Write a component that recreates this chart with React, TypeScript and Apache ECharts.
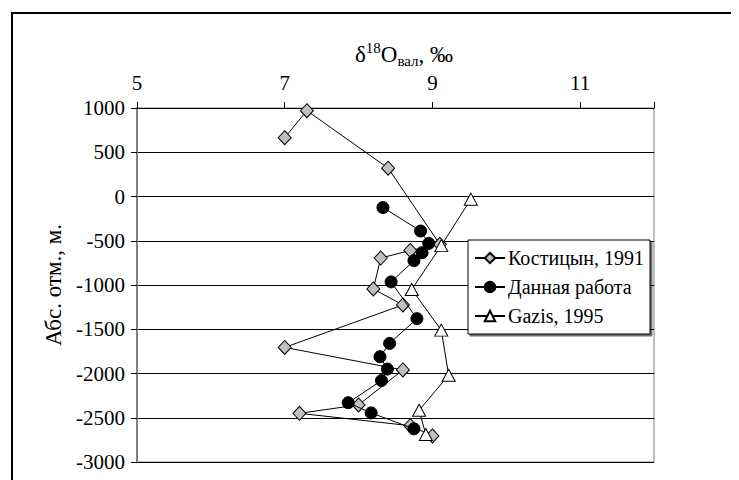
import React, { useEffect, useRef } from "react";
import * as echarts from "echarts";

// δ18O values (‰) and absolute elevations (m) per data source
const kostX = [7.0, 7.3, 8.4, 9.1, 8.7, 8.3, 8.2, 8.6, 7.0, 8.6, 8.0, 7.2, 8.7, 9.0];
const kostY = [665, 970, 320, -540, -610, -695, -1045, -1225, -1705, -1960, -2355, -2450, -2590, -2705];

const danX = [8.33, 8.84, 8.95, 8.86, 8.75, 8.44, 8.79, 8.42, 8.29, 8.39, 8.31, 7.86, 8.17, 8.75];
const danY = [-125, -390, -530, -635, -725, -965, -1380, -1660, -1810, -1950, -2080, -2330, -2445, -2625];

const gazX = [9.52, 9.12, 8.72, 9.12, 9.22, 8.82, 8.91];
const gazY = [-30, -555, -1050, -1510, -2020, -2415, -2690];

const seriesNames = ["Костицын, 1991", "Данная работа", "Gazis, 1995"];
const xTicks = [5, 7, 9, 11];

const FONT = "Liberation Serif, Times New Roman, serif";

const pairs = (xs: number[], ys: number[]) => xs.map((x, i) => [x, ys[i]]);

export default function App() {
  const ref = useRef<HTMLDivElement>(null);

  useEffect(() => {
    if (!ref.current) return;
    const chart = echarts.init(ref.current, undefined, { renderer: "svg" });

    const lineStyle = { color: "#000", width: 1 };

    chart.setOption({
      animation: false,
      backgroundColor: "#fff",
      textStyle: { fontFamily: FONT, color: "#000" },
      grid: {
        left: 129,
        top: 100,
        width: 517,
        height: 354,
        show: true,
        borderColor: "#808080",
        borderWidth: 1,
        backgroundColor: "transparent",
      },
      xAxis: {
        type: "value",
        position: "top",
        min: 5,
        max: 12,
        interval: 2,
        axisLine: { show: true, onZero: false, lineStyle: { color: "#000", width: 1 } },
        axisTick: { show: true, length: 6, lineStyle: { color: "#000" } },
        axisLabel: {
          fontSize: 21,
          fontFamily: FONT,
          color: "#000",
          margin: 15,
          formatter: (v: number) => (xTicks.includes(v) ? String(v) : ""),
        },
        splitLine: { show: false },
      },
      yAxis: {
        type: "value",
        min: -3000,
        max: 1000,
        interval: 500,
        name: "Абс. отм., м.",
        nameLocation: "middle",
        nameGap: 72,
        nameTextStyle: { fontSize: 23, fontFamily: FONT, color: "#000" },
        axisLine: { show: true, onZero: false, lineStyle: { color: "#808080", width: 2 } },
        axisTick: { show: true, length: 6, lineStyle: { color: "#000" } },
        axisLabel: {
          fontSize: 21,
          fontFamily: FONT,
          color: "#000",
          margin: 12,
          formatter: (v: number) => String(v),
        },
        splitLine: { show: true, lineStyle: { color: "#000", width: 1 } },
      },
      legend: {
        orient: "vertical",
        left: 460,
        top: 232,
        itemWidth: 30,
        itemHeight: 13,
        itemGap: 9,
        padding: [8, 6, 8, 6],
        backgroundColor: "#fff",
        borderColor: "#000",
        borderWidth: 1,
        borderRadius: 0,
        shadowColor: "rgba(0,0,0,0.55)",
        shadowBlur: 1,
        shadowOffsetX: 2,
        shadowOffsetY: 2,
        textStyle: { fontSize: 20, fontFamily: FONT, color: "#000", padding: [0, 0, 0, -2] },
        data: seriesNames,
      },
      graphic: [
        {
          type: "text",
          x: 396,
          y: 46,
          style: {
            text: "{a|δ}{s|18}{a|O}{b|вал}{a|, ‰}",
            align: "center",
            verticalAlign: "middle",
            fontFamily: FONT,
            rich: {
              a: { fontSize: 23, fontFamily: FONT, lineHeight: 28, verticalAlign: "middle", fill: "#000" },
              s: { fontSize: 15, fontFamily: FONT, lineHeight: 15, verticalAlign: "top", fill: "#000" },
              b: { fontSize: 15, fontFamily: FONT, lineHeight: 15, verticalAlign: "bottom", fill: "#000" },
            },
          },
        },
        {
          // outer frame: left and top edges of the bordered chart box
          type: "polyline",
          shape: { points: [[4, 472], [4, 5], [731, 5]] },
          style: { stroke: "#000", lineWidth: 2, fill: "none" },
          silent: true,
        },
      ],
      series: [
        {
          name: seriesNames[0],
          type: "line",
          data: pairs(kostX, kostY),
          symbol: "diamond",
          symbolSize: [13, 14],
          lineStyle,
          itemStyle: { color: "#c0c0c0", borderColor: "#000", borderWidth: 1 },
          z: 2,
        },
        {
          name: seriesNames[1],
          type: "line",
          data: pairs(danX, danY),
          symbol: "circle",
          symbolSize: 12,
          lineStyle,
          itemStyle: { color: "#000", borderColor: "#000", borderWidth: 1 },
          z: 3,
        },
        {
          name: seriesNames[2],
          type: "line",
          data: pairs(gazX, gazY),
          symbol: "triangle",
          symbolSize: [13, 12],
          lineStyle,
          itemStyle: { color: "#fff", borderColor: "#000", borderWidth: 1 },
          z: 4,
        },
      ],
    });

    return () => chart.dispose();
  }, []);

  return <div ref={ref} style={{ width: 731, height: 472 }} />;
}
